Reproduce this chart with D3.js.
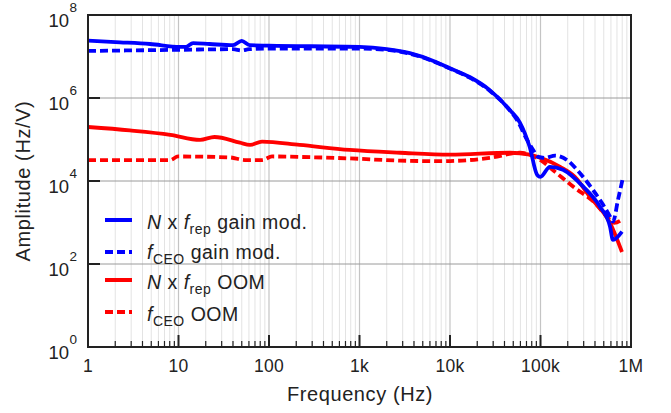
<!DOCTYPE html>
<html><head><meta charset="utf-8">
<script src="https://cdn.jsdelivr.net/npm/d3@7/dist/d3.min.js"></script>
<style>html,body{margin:0;padding:0;background:#fff;}svg{display:block;font-family:"Liberation Sans",Arial,sans-serif;}</style>
</head><body>
<script>
// Data (frequency in Hz, amplitude in Hz/V)
const blueSolidF = [1, 2.26, 4.84, 10.4, 12, 14.5, 22, 40, 50, 61, 100, 1000, 2000, 3600, 7000, 10000, 16500, 27500, 46000, 59000, 76000, 92000, 100000, 127000, 177000, 295000, 454000, 586000, 632000, 795000];
const blueSolidA = [2.4e7, 2.2e7, 2.0e7, 1.7e7, 1.7e7, 2.1e7, 2.0e7, 1.87e7, 2.37e7, 1.87e7, 1.82e7, 1.7e7, 1.5e7, 1.2e7, 7.4e6, 5.2e6, 3.2e6, 1.55e6, 5.1e5, 2.6e5, 6.6e4, 1.4e4, 1.26e4, 2.2e4, 1.87e4, 7.4e3, 2.4e3, 800, 380, 600];
const blueDashF = [1, 10, 40, 50, 60, 100, 1000, 2000, 3600, 7000, 10000, 16500, 27500, 46000, 55000, 71000, 83000, 94000, 112000, 145000, 196000, 253000, 326000, 380000, 490000, 586000, 632000, 718000, 814000];
const blueDashA = [1.36e7, 1.45e7, 1.5e7, 1.4e7, 1.5e7, 1.55e7, 1.55e7, 1.45e7, 1.17e7, 7.2e6, 5.1e6, 3.1e6, 1.5e6, 5.0e5, 2.96e5, 9.8e4, 5.6e4, 3.8e4, 3.6e4, 4.1e4, 3.2e4, 1.87e4, 9.6e3, 6.1e3, 2.7e3, 1.4e3, 1.05e3, 3.5e3, 1.2e4];
const redSolidF = [1, 2.9, 8.1, 17.3, 25, 47.7, 61.6, 83.7, 218, 780, 2800, 10000, 46000, 76000, 100000, 165000, 240000, 350000, 586000, 795000];
const redSolidA = [2.0e5, 1.66e5, 1.3e5, 9.8e4, 1.15e5, 8.4e4, 7.4e4, 8.9e4, 7.4e4, 5.6e4, 4.8e4, 4.3e4, 4.8e4, 4.3e4, 3.6e4, 2.2e4, 1.26e4, 4.2e3, 980, 195];
const redDashF = [1, 8.1, 9.9, 37, 54, 84, 108, 218, 780, 2800, 7700, 16500, 27500, 59000, 100000, 145000, 240000, 400000, 540000, 655000, 795000];
const redDashA = [3.2e4, 3.2e4, 3.9e4, 3.7e4, 3.2e4, 3.2e4, 3.9e4, 3.8e4, 3.5e4, 3.1e4, 3.0e4, 3.2e4, 3.6e4, 4.8e4, 3.2e4, 1.66e4, 6.8e3, 2.95e3, 1.4e3, 980, 1.17e3];
const xTickVals = [1, 10, 100, 1000, 10000, 100000, 1000000];
const xTickLabels = ["1", "10", "100", "1k", "10k", "100k", "1M"];
const yTickExps = [0, 2, 4, 6, 8];

const W = 671, H = 413;
const L = 88, R = 631, T = 15, B = 347;
const svg = d3.select("body").append("svg").attr("width", W).attr("height", H);
const x = d3.scaleLog().domain([1, 1e6]).range([L, R]);
const y = d3.scaleLog().domain([1, 1e8]).range([B, T]);

// minor vertical grid
const minor = [];
for (let d = 0; d < 6; d++) for (let k = 2; k <= 9; k++) minor.push(k * Math.pow(10, d));
const grid = svg.append("g");
grid.selectAll(".vm").data(minor).enter().append("line")
  .attr("x1", d => x(d)).attr("x2", d => x(d)).attr("y1", T).attr("y2", B)
  .attr("stroke", "#e3e3e3").attr("stroke-width", 1);
grid.selectAll(".vM").data(xTickVals.slice(1, -1)).enter().append("line")
  .attr("x1", d => x(d)).attr("x2", d => x(d)).attr("y1", T).attr("y2", B)
  .attr("stroke", "#c4c4c4").attr("stroke-width", 1.2);
grid.selectAll(".hM").data(yTickExps.slice(1, -1)).enter().append("line")
  .attr("x1", L).attr("x2", R).attr("y1", d => y(Math.pow(10, d))).attr("y2", d => y(Math.pow(10, d)))
  .attr("stroke", "#9a9a9a").attr("stroke-width", 1);

// curves
const line = d3.line().x(d => x(d[0])).y(d => y(d[1])).curve(d3.curveMonotoneX);
const zip = (a, b) => a.map((v, i) => [v, b[i]]);
const series = [
  {f: redDashF, a: redDashA, c: "#ff0000", dash: "8,4"},
  {f: redSolidF, a: redSolidA, c: "#ff0000", dash: null},
  {f: blueDashF, a: blueDashA, c: "#0000ff", dash: "8,4"},
  {f: blueSolidF, a: blueSolidA, c: "#0000ff", dash: null},
];
svg.append("clipPath").attr("id", "clp").append("rect").attr("x", L).attr("y", T).attr("width", R - L).attr("height", B - T);
const cg = svg.append("g").attr("clip-path", "url(#clp)");
series.forEach(s => {
  cg.append("path").datum(zip(s.f, s.a)).attr("d", line)
    .attr("fill", "none").attr("stroke", s.c).attr("stroke-width", 3.8)
    .attr("stroke-linejoin", "round")
    .attr("stroke-dasharray", s.dash);
});

// ticks
const ax = svg.append("g");
ax.selectAll(".xmt").data(minor).enter().append("line")
  .attr("x1", d => x(d)).attr("x2", d => x(d)).attr("y1", B).attr("y2", B - 6)
  .attr("stroke", "#222").attr("stroke-width", 1.2);
ax.selectAll(".xMt").data(xTickVals).enter().append("line")
  .attr("x1", d => x(d)).attr("x2", d => x(d)).attr("y1", B).attr("y2", B - 12)
  .attr("stroke", "#222").attr("stroke-width", 2);
ax.selectAll(".yMt").data(yTickExps).enter().append("line")
  .attr("x1", L).attr("x2", L + 12).attr("y1", d => y(Math.pow(10, d))).attr("y2", d => y(Math.pow(10, d)))
  .attr("stroke", "#222").attr("stroke-width", 2);

// frame
svg.append("rect").attr("x", L).attr("y", T).attr("width", R - L).attr("height", B - T)
  .attr("fill", "none").attr("stroke", "#222").attr("stroke-width", 2);

// x labels
svg.selectAll(".xl").data(xTickVals).enter().append("text")
  .attr("x", d => x(d)).attr("y", 372).attr("text-anchor", "middle")
  .attr("font-size", 17.5).attr("letter-spacing", 0.3).attr("fill", "#222").text((d, i) => xTickLabels[i]);
// y labels
yTickExps.forEach(e => {
  svg.append("text").attr("x", 69).attr("y", y(Math.pow(10, e)) + 12)
    .attr("text-anchor", "end").attr("font-size", 18.5).attr("fill", "#222").text("10");
  svg.append("text").attr("x", 69.5).attr("y", y(Math.pow(10, e)) - 3)
    .attr("font-size", 13.5).attr("fill", "#222").text(String(e));
});

svg.append("text").attr("x", 360).attr("y", 401).attr("text-anchor", "middle")
  .attr("font-size", 20).attr("letter-spacing", 0.6).attr("fill", "#222").text("Frequency (Hz)");
svg.append("text").attr("transform", `translate(30,181) rotate(-90)`)
  .attr("text-anchor", "middle").attr("font-size", 20).attr("letter-spacing", 0.6).attr("fill", "#222").text("Amplitude (Hz/V)");

// legend
const legItems = [
  {c: "#0000ff", dash: null, pre: "N", sym: "f", sub: "rep", post: " gain mod."},
  {c: "#0000ff", dash: "8,4", pre: null, sym: "f", sub: "CEO", post: " gain mod."},
  {c: "#ff0000", dash: null, pre: "N", sym: "f", sub: "rep", post: " OOM"},
  {c: "#ff0000", dash: "8,4", pre: null, sym: "f", sub: "CEO", post: " OOM"},
];
const legLineY = [220, 252, 280, 312];
const legTextY = [228.5, 259, 289, 320.5];
legItems.forEach((it, i) => {
  const yy = legLineY[i];
  svg.append("line").attr("x1", 105).attr("x2", 132).attr("y1", yy).attr("y2", yy)
    .attr("stroke", it.c).attr("stroke-width", 4).attr("stroke-dasharray", it.dash);
  const t = svg.append("text").attr("x", 147).attr("y", legTextY[i]).attr("font-size", 19.5)
    .attr("letter-spacing", 0.5).attr("fill", "#222");
  if (it.pre) {
    t.append("tspan").attr("font-style", "italic").text(it.pre);
    t.append("tspan").text(" x ");
  }
  t.append("tspan").attr("font-style", "italic").text(it.sym);
  t.append("tspan").attr("font-size", 14).attr("dy", 5).text(it.sub);
  t.append("tspan").attr("dy", -5).text(it.post);
});
</script>
</body></html>
